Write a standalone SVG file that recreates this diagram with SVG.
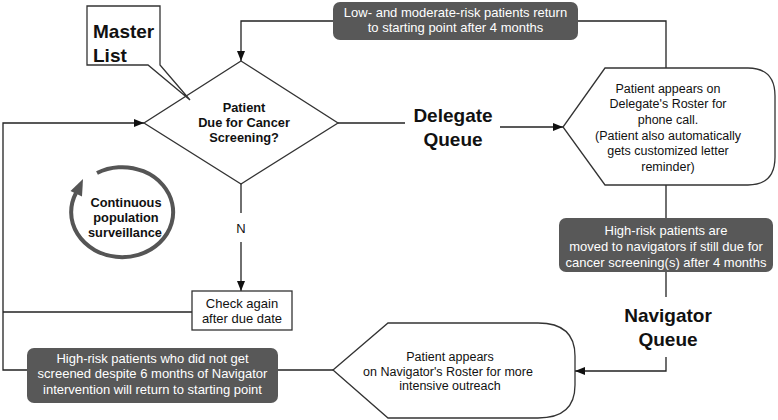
<svg xmlns="http://www.w3.org/2000/svg" width="778" height="420" viewBox="0 0 778 420">
<defs>
<style>
.ln{fill:none;stroke:#222;stroke-width:1.3}
.sh{fill:#fff;stroke:#333;stroke-width:1.3}
.gb{fill:#585858;stroke:none}
text{font-family:"Liberation Sans",Arial,Helvetica,sans-serif;text-anchor:middle;fill:#111}
.t{font-size:12.5px}
.t13{font-size:13px}
.w{font-size:13px;fill:#fff}
.b{font-weight:bold;font-size:12.8px}
.big{font-weight:bold;font-size:19px}
</style>
<marker id="ah" markerUnits="userSpaceOnUse" markerWidth="10" markerHeight="8" refX="10" refY="4" orient="auto">
<path d="M0,0 L10,4 L0,8 Z" fill="#111"/>
</marker>
</defs>
<rect width="778" height="420" fill="#fff"/>

<g id="connectors">
<path class="ln" d="M666,68 V21 H578"/>
<path class="ln" d="M333,21 H241 V61" marker-end="url(#ah)"/>
<path class="ln" d="M27,370 H3 V123 H144" marker-end="url(#ah)"/>
<path class="ln" d="M192,312 H3"/>
<path class="ln" d="M338,123 H405"/>
<path class="ln" d="M500,127 H563" marker-end="url(#ah)"/>
<path class="ln" d="M666,185 V218"/>
<path class="ln" d="M666,272 V297"/>
<path class="ln" d="M666,357 V371 H575" marker-end="url(#ah)"/>
<path class="ln" d="M333,370 H278"/>
<path class="ln" d="M241,184 V213"/>
<path class="ln" d="M241,242 V291" marker-end="url(#ah)"/>
</g>

<g id="decision">
<path class="sh" d="M241,61 L338,123 L241,184 L144,123 Z"/>
<text class="b" x="244" y="111.5">Patient</text>
<text class="b" x="244" y="126.5">Due for Cancer</text>
<text class="b" x="244" y="141.5">Screening?</text>
</g>

<g id="master-list">
<path class="sh" d="M87,6 L160,6 L160,65 L190,100 L148,65 L87,65 Z"/>
<text class="big" x="93" y="38" style="text-anchor:start">Master</text>
<text class="big" x="93" y="61.5" style="text-anchor:start">List</text>
</g>

<g id="low-risk-return">
<rect class="gb" x="333" y="2" width="245" height="38" rx="7"/>
<text class="w" x="455.5" y="17">Low- and moderate-risk patients return</text>
<text class="w" x="455.5" y="32">to starting point after 4 months</text>
</g>

<g id="delegate-queue">
<text class="big" x="453" y="122">Delegate</text>
<text class="big" x="453" y="145.5">Queue</text>
</g>

<g id="delegate-roster">
<path class="sh" d="M605,68 L748,68 Q775,68 775,96 L775,157 Q775,185 748,185 L605,185 L563,127 Z"/>
<text class="t" x="668" y="92.5">Patient appears on</text>
<text class="t" x="668" y="108">Delegate's Roster for</text>
<text class="t" x="668" y="123.5">phone call.</text>
<text class="t" x="668" y="139.5">(Patient also automatically</text>
<text class="t" x="668" y="155">gets customized letter</text>
<text class="t" x="668" y="171">reminder)</text>
</g>

<g id="high-risk-moved">
<rect class="gb" x="559" y="218" width="214" height="54" rx="7"/>
<text class="w" x="666" y="234.5">High-risk patients are</text>
<text class="w" x="666" y="251">moved to navigators if still due for</text>
<text class="w" x="666" y="266.5">cancer screening(s) after 4 months</text>
</g>

<g id="navigator-queue">
<text class="big" x="668" y="322">Navigator</text>
<text class="big" x="668" y="346">Queue</text>
</g>

<g id="navigator-roster">
<path class="sh" d="M388,323 L538,323 Q575,323 575,356 L575,385 Q575,418 538,418 L388,418 L333,370 Z"/>
<text class="t" x="450" y="361">Patient appears</text>
<text class="t" x="448" y="375.5">on Navigator's Roster for more</text>
<text class="t" x="450" y="390">intensive outreach</text>
</g>

<g id="high-risk-return">
<rect class="gb" x="27" y="348" width="251" height="55" rx="7"/>
<text class="w" x="152.5" y="362.5">High-risk patients who did not get</text>
<text class="w" x="152.5" y="377.5">screened despite 6 months of Navigator</text>
<text class="w" x="152.5" y="393.5">intervention will return to starting point</text>
</g>

<g id="check-again">
<rect class="sh" x="192" y="291" width="100" height="39"/>
<text class="t13" x="242" y="307.5">Check again</text>
<text class="t13" x="242" y="322.5">after due date</text>
</g>

<g id="n-label">
<text class="t13" x="241" y="232.5">N</text>
</g>

<g id="surveillance">
<path d="M97,173 A51,45 0 1 1 76,193" fill="none" stroke="#555" stroke-width="4"/>
<path d="M83,179 L70.5,191 L82,196.5 Z" fill="#555"/>
<text class="b" x="126" y="206.5" style="font-size:12.8px">Continuous</text>
<text class="b" x="126" y="221.5" style="font-size:12.8px">population</text>
<text class="b" x="125" y="237" style="font-size:12.8px">surveillance</text>
</g>
</svg>
